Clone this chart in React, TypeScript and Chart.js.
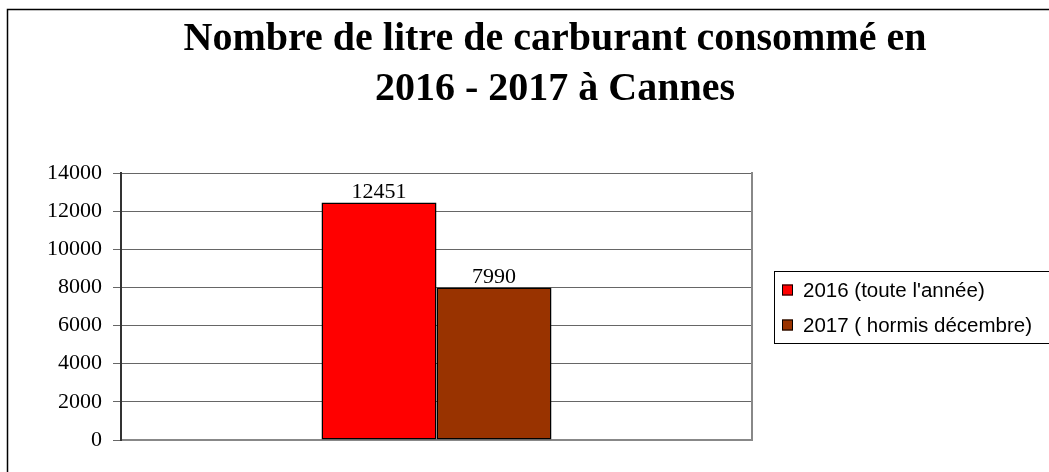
import React, { useEffect, useRef } from 'react';
import { Chart, registerables } from 'chart.js';

Chart.register(...registerables);

const categories = [''];
const seriesLabels = ["2016 (toute l'année)", '2017 ( hormis décembre)'];
const values2016 = [12451];
const values2017 = [7990];
const seriesColors = ['#FF0000', '#993300'];
const titleLines = ['Nombre de litre de carburant consommé en', '2016 - 2017 à Cannes'];
const yMin = 0;
const yMax = 14000;
const yStep = 2000;

const W = 1110;
const H = 500;

const framePlugin = {
  id: 'frame',
  beforeDraw(chart: any) {
    const ctx = chart.ctx;
    ctx.save();
    ctx.fillStyle = '#fff';
    ctx.fillRect(0, 0, chart.width, chart.height);
    ctx.strokeStyle = '#000';
    ctx.lineWidth = 1.5;
    ctx.strokeRect(7.5, 9.5, chart.width - 12, chart.height);
    ctx.restore();
  },
};

const dataLabelPlugin = {
  id: 'dataLabels',
  afterDatasetsDraw(chart: any) {
    const ctx = chart.ctx;
    ctx.save();
    ctx.font = '22px "Liberation Serif"';
    ctx.fillStyle = '#000';
    ctx.textAlign = 'center';
    ctx.textBaseline = 'alphabetic';
    chart.data.datasets.forEach((ds: any, i: number) => {
      const meta = chart.getDatasetMeta(i);
      meta.data.forEach((el: any, j: number) => {
        ctx.fillText(String(ds.data[j]), el.x, el.y - 5);
      });
    });
    ctx.restore();
  },
};

const legendBoxPlugin = {
  id: 'legendBox',
  afterDraw(chart: any) {
    const ctx = chart.ctx;
    const area = chart.chartArea;
    const mid = (area.top + area.bottom) / 2;
    const left = area.right + 22;
    const top = Math.round(mid - 35.5) + 0.5;
    ctx.save();
    ctx.strokeStyle = '#000';
    ctx.lineWidth = 1;
    ctx.strokeRect(left + 0.5, top, 320, 72);
    ctx.font = '20.5px "Liberation Sans"';
    ctx.textAlign = 'left';
    ctx.textBaseline = 'middle';
    chart.data.datasets.forEach((ds: any, i: number) => {
      const cy = mid - 16.5 + i * 35;
      ctx.fillStyle = ds.backgroundColor;
      ctx.fillRect(left + 8, cy - 5.5, 11, 11);
      ctx.strokeStyle = '#000';
      ctx.strokeRect(left + 8.5, cy - 5, 10, 10);
      ctx.fillStyle = '#000';
      ctx.fillText(ds.label, left + 29, cy + 1);
    });
    ctx.restore();
  },
};

export default function App() {
  const ref = useRef<HTMLCanvasElement | null>(null);

  useEffect(() => {
    if (!ref.current) return;
    const chart = new Chart(ref.current, {
      type: 'bar',
      data: {
        labels: categories,
        datasets: [
          {
            label: seriesLabels[0],
            data: values2016,
            backgroundColor: seriesColors[0],
            borderColor: '#000',
            borderWidth: 1.5,
            borderSkipped: false,
            categoryPercentage: 0.3645,
            barPercentage: 1,
          },
          {
            label: seriesLabels[1],
            data: values2017,
            backgroundColor: seriesColors[1],
            borderColor: '#000',
            borderWidth: 1.5,
            borderSkipped: false,
            categoryPercentage: 0.3645,
            barPercentage: 1,
          },
        ],
      },
      options: {
        responsive: false,
        animation: false,
        devicePixelRatio: 1,
        layout: { padding: { top: 0, left: 0, right: 0, bottom: H - 440 } },
        plugins: {
          legend: { display: false },
          tooltip: { enabled: false },
          title: {
            display: true,
            text: titleLines,
            color: '#000',
            font: { family: '"Liberation Serif"', weight: 'bold', size: 40, lineHeight: 50 / 40 },
            padding: { top: 15, bottom: 58 },
          },
        },
        scales: {
          x: {
            grid: { display: false },
            ticks: { display: false },
            border: { display: true, color: '#888', width: 2 },
            afterFit: (s: any) => {
              s.height = 0;
            },
          },
          y: {
            min: yMin,
            max: yMax,
            ticks: {
              stepSize: yStep,
              color: '#000',
              font: { family: '"Liberation Serif"', size: 22 },
              padding: 11,
              callback: (v: any) => String(v),
            },
            grid: { color: '#666', tickColor: '#666', tickLength: 8, lineWidth: 1 },
            border: { color: '#333', width: 2 },
            afterFit: (s: any) => {
              s.width = 121;
            },
          },
          y2: {
            type: 'linear',
            position: 'right',
            min: yMin,
            max: yMax,
            grid: { display: false },
            ticks: { display: false },
            border: { display: true, color: '#888', width: 2 },
            afterFit: (s: any) => {
              s.width = W - 752;
            },
          },
        },
      } as any,
      plugins: [framePlugin, dataLabelPlugin, legendBoxPlugin],
    });
    return () => chart.destroy();
  }, []);

  return (
    <div style={{ position: 'fixed', left: 0, top: 0, width: 1049, height: 472, overflow: 'hidden', background: '#fff' }}>
      <canvas ref={ref} width={W} height={H} style={{ width: W, height: H, display: 'block' }} />
    </div>
  );
}
